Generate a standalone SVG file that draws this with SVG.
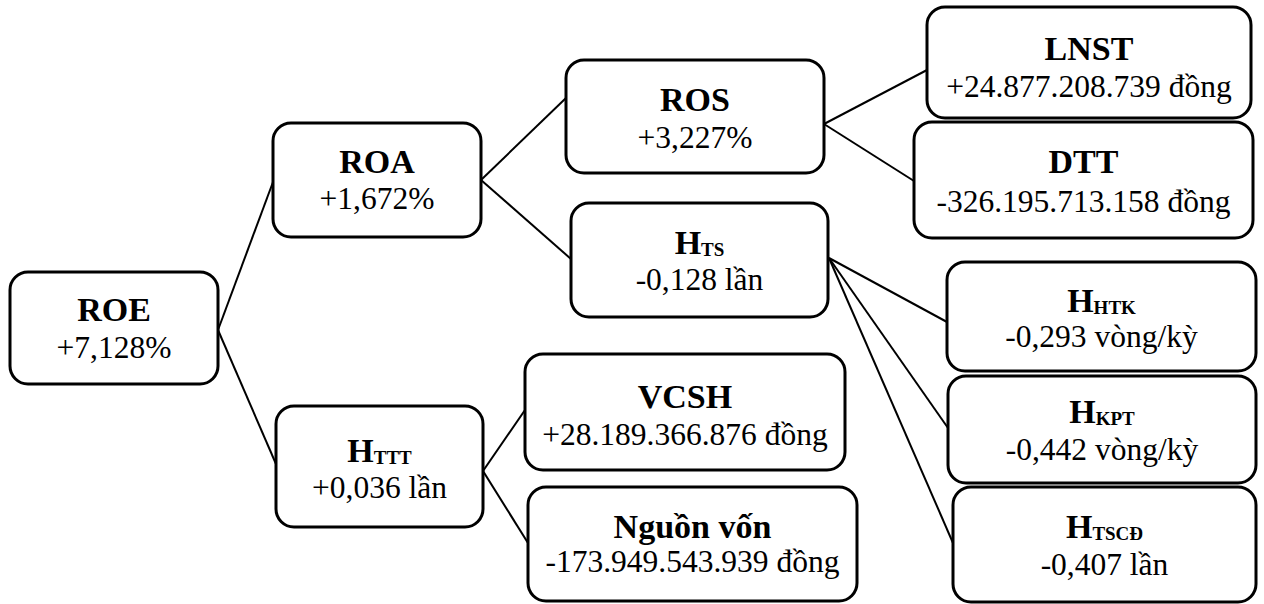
<svg xmlns="http://www.w3.org/2000/svg" width="1264" height="604" viewBox="0 0 1264 604">
  <style>
    .box { fill: #ffffff; stroke: #000000; stroke-width: 3; }
    .link { stroke: #000000; stroke-width: 2; fill: none; }
    .label { font-family: 'Liberation Serif', 'DejaVu Serif', serif; fill: #000000; text-anchor: middle; }
    .title { font-size: 34px; font-weight: bold; }
    .value { font-size: 31.5px; }
    .sub { font-size: 19px; font-weight: bold; }
  </style>
  <rect width="1264" height="604" fill="#ffffff"/>

  <!-- connectors -->
  <g id="connectors">
    <line class="link" x1="218" y1="330" x2="273" y2="182"/>
    <line class="link" x1="218" y1="330" x2="276" y2="464"/>
    <line class="link" x1="481" y1="180" x2="566" y2="98"/>
    <line class="link" x1="481" y1="180" x2="571" y2="259"/>
    <line class="link" x1="824" y1="124" x2="927" y2="70"/>
    <line class="link" x1="824" y1="124" x2="914" y2="181"/>
    <line class="link" x1="829" y1="258" x2="947" y2="322"/>
    <line class="link" x1="829" y1="258" x2="948" y2="428"/>
    <line class="link" x1="829" y1="258" x2="953" y2="543"/>
    <line class="link" x1="483" y1="471" x2="525" y2="410"/>
    <line class="link" x1="483" y1="471" x2="528" y2="543"/>
  </g>

  <g id="node-roe">
    <rect class="box" x="10" y="272" width="208" height="112" rx="18"/>
    <text class="label title" x="114" y="321">ROE</text>
    <text class="label value" x="114" y="358">+7,128%</text>
  </g>

  <g id="node-roa">
    <rect class="box" x="273" y="123" width="208" height="114" rx="18"/>
    <text class="label title" x="377" y="173">ROA</text>
    <text class="label value" x="377" y="209">+1,672%</text>
  </g>

  <g id="node-httt">
    <rect class="box" x="276" y="406" width="207" height="121" rx="18"/>
    <text class="label title" x="379.5" y="462">H<tspan class="sub" dy="2">TTT</tspan></text>
    <text class="label value" x="379.5" y="498">+0,036 lần</text>
  </g>

  <g id="node-ros">
    <rect class="box" x="566" y="60" width="258" height="113" rx="18"/>
    <text class="label title" x="695" y="111">ROS</text>
    <text class="label value" x="695" y="148">+3,227%</text>
  </g>

  <g id="node-hts">
    <rect class="box" x="571" y="203" width="257" height="114" rx="18"/>
    <text class="label title" x="699.5" y="254">H<tspan class="sub" dy="2">TS</tspan></text>
    <text class="label value" x="699.5" y="290">-0,128 lần</text>
  </g>

  <g id="node-lnst">
    <rect class="box" x="927" y="7" width="324" height="111" rx="18"/>
    <text class="label title" x="1089" y="60">LNST</text>
    <text class="label value" x="1089" y="97">+24.877.208.739 đồng</text>
  </g>

  <g id="node-dtt">
    <rect class="box" x="914" y="122" width="339" height="116" rx="18"/>
    <text class="label title" x="1083.5" y="173">DTT</text>
    <text class="label value" x="1083.5" y="212">-326.195.713.158 đồng</text>
  </g>

  <g id="node-hhtk">
    <rect class="box" x="947" y="262" width="309" height="109" rx="18"/>
    <text class="label title" x="1101.5" y="312">H<tspan class="sub" dy="2">HTK</tspan></text>
    <text class="label value" x="1101.5" y="347">-0,293 vòng/kỳ</text>
  </g>

  <g id="node-hkpt">
    <rect class="box" x="948" y="376" width="308" height="107" rx="18"/>
    <text class="label title" x="1102" y="423">H<tspan class="sub" dy="2">KPT</tspan></text>
    <text class="label value" x="1102" y="460">-0,442 vòng/kỳ</text>
  </g>

  <g id="node-htscd">
    <rect class="box" x="953" y="487" width="303" height="115" rx="18"/>
    <text class="label title" x="1104.5" y="538">H<tspan class="sub" dy="2">TSCĐ</tspan></text>
    <text class="label value" x="1104.5" y="575">-0,407 lần</text>
  </g>

  <g id="node-vcsh">
    <rect class="box" x="525" y="354" width="320" height="116" rx="18"/>
    <text class="label title" x="685" y="408">VCSH</text>
    <text class="label value" x="685" y="445">+28.189.366.876 đồng</text>
  </g>

  <g id="node-nguonvon">
    <rect class="box" x="528" y="487" width="329" height="114" rx="18"/>
    <text class="label title" x="692.5" y="538">Nguồn vốn</text>
    <text class="label value" x="692.5" y="572">-173.949.543.939 đồng</text>
  </g>
</svg>
